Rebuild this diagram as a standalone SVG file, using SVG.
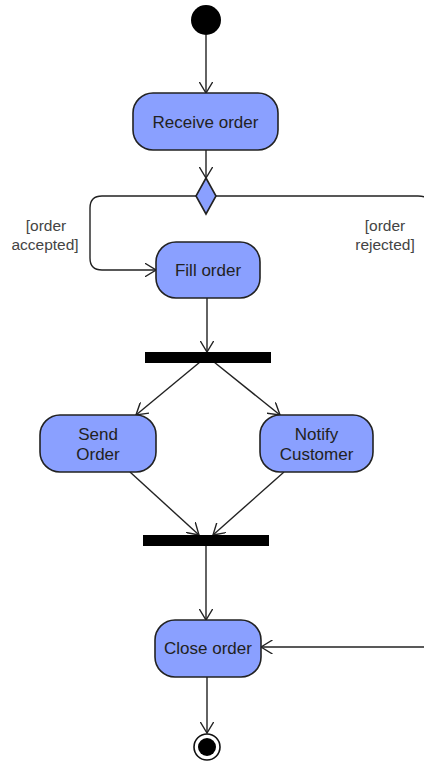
<svg xmlns="http://www.w3.org/2000/svg" width="424" height="763" viewBox="0 0 424 763">
  <style>
    .action { fill: #8aa0ff; stroke: #222; stroke-width: 1.6; }
    .bar { fill: #000; }
    .label { font-family: "Liberation Sans", Arial, sans-serif; font-size: 17px; fill: #222; text-anchor: middle; }
    .guard { font-family: "Liberation Sans", Arial, sans-serif; font-size: 15.5px; fill: #444; text-anchor: middle; }
    .edge { fill: none; stroke: #222; stroke-width: 1.4; }
  </style>
  <defs>
    <marker id="open" viewBox="0 0 12 14" refX="11.5" refY="7" markerWidth="12" markerHeight="14" markerUnits="userSpaceOnUse" orient="auto">
      <path d="M0,0 L11.5,7 L0,14" fill="none" stroke="#222" stroke-width="1.4"/>
    </marker>
  </defs>

  <rect width="424" height="763" fill="#fff"/>

  <!-- connectors -->
  <g id="connectors">
    <path class="edge" d="M206,35 L206,93" marker-end="url(#open)"/>
    <path class="edge" d="M206,150 L206,178" marker-end="url(#open)"/>
    <path class="edge" d="M196,196 L102,196 Q90,196 90,208 L90,258 Q90,270 102,270 L156,270" marker-end="url(#open)"/>
    <path class="edge" d="M216,196 L418,196 Q432,196 432,210 L432,647"/>
    <path class="edge" d="M432,647 L261,647" marker-end="url(#open)"/>
    <path class="edge" d="M207,298 L207,352" marker-end="url(#open)"/>
    <path class="edge" d="M200,362 L136,415" marker-end="url(#open)"/>
    <path class="edge" d="M214,362 L280,415" marker-end="url(#open)"/>
    <path class="edge" d="M130,472 L199,535" marker-end="url(#open)"/>
    <path class="edge" d="M284,472 L213,535" marker-end="url(#open)"/>
    <path class="edge" d="M206,546 L206,620" marker-end="url(#open)"/>
    <path class="edge" d="M207,677 L207,733" marker-end="url(#open)"/>
  </g>

  <!-- start -->
  <g id="start">
    <circle cx="206" cy="20" r="15" fill="#000"/>
  </g>

  <g id="receive-order">
    <rect class="action" x="133" y="93" width="145" height="57" rx="20"/>
    <text class="label" x="205.5" y="128">Receive order</text>
  </g>

  <g id="decision">
    <polygon class="action" points="206,178 216,196 206,214 196,196"/>
  </g>

  <g id="guard-accepted">
    <text class="guard" x="46" y="231">[order</text>
    <text class="guard" x="45" y="250">accepted]</text>
  </g>

  <g id="guard-rejected">
    <text class="guard" x="385" y="231">[order</text>
    <text class="guard" x="385" y="250">rejected]</text>
  </g>

  <g id="fill-order">
    <rect class="action" x="156" y="242" width="104" height="56" rx="20"/>
    <text class="label" x="208" y="276">Fill order</text>
  </g>

  <g id="fork">
    <rect class="bar" x="145" y="352" width="126" height="11"/>
  </g>

  <g id="send-order">
    <rect class="action" x="40" y="415" width="116" height="57" rx="20"/>
    <text class="label" x="98" y="440">Send</text>
    <text class="label" x="98" y="460">Order</text>
  </g>

  <g id="notify-customer">
    <rect class="action" x="260" y="415" width="113" height="57" rx="20"/>
    <text class="label" x="316.5" y="440">Notify</text>
    <text class="label" x="316.5" y="460">Customer</text>
  </g>

  <g id="join">
    <rect class="bar" x="143" y="535" width="126" height="11"/>
  </g>

  <g id="close-order">
    <rect class="action" x="155" y="620" width="106" height="57" rx="20"/>
    <text class="label" x="208" y="654">Close order</text>
  </g>

  <g id="end">
    <circle cx="207" cy="747" r="13" fill="#fff" stroke="#111" stroke-width="1.6"/>
    <circle cx="207" cy="747" r="9" fill="#000"/>
  </g>
</svg>
